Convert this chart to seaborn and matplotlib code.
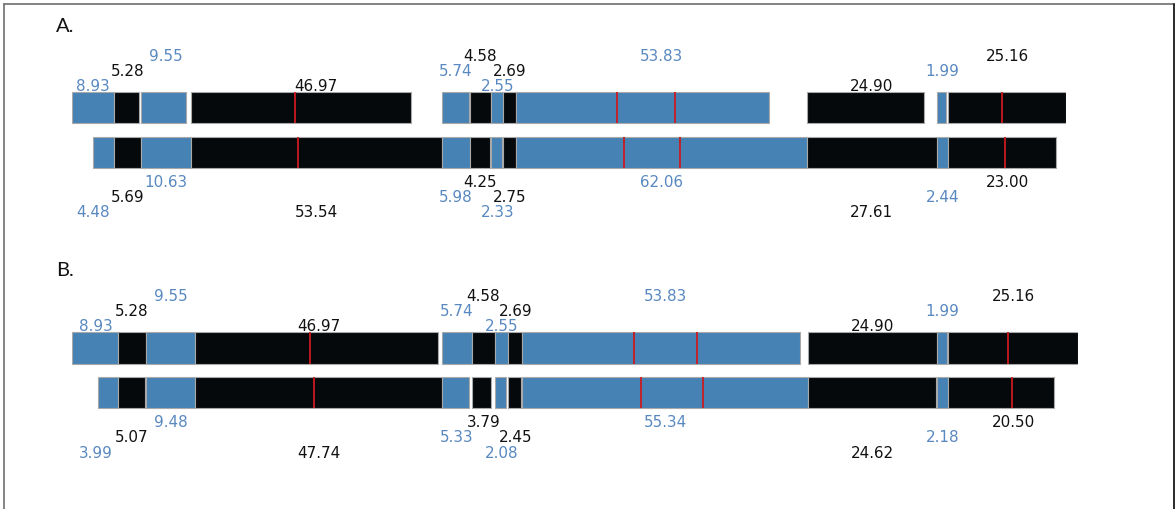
import matplotlib
matplotlib.use("Agg")
import matplotlib.pyplot as plt
from matplotlib.lines import Line2D
import numpy as np
import seaborn as sns

sns.set_theme(style="white")
plt.rcParams["font.family"] = ["DejaVu Sans"]

# Segment lengths, in genome order (reference row on top, query row below)
top_lengths = [8.93, 5.28, 9.55, 46.97, 5.74, 4.58, 2.55, 2.69, 53.83, 24.90, 1.99, 25.16]
bottom_lengths_a = [4.48, 5.69, 10.63, 53.54, 5.98, 4.25, 2.33, 2.75, 62.06, 27.61, 2.44, 23.00]
bottom_lengths_b = [3.99, 5.07, 9.48, 47.74, 5.33, 3.79, 2.08, 2.45, 55.34, 24.62, 2.18, 20.50]

# Marker positions (offset inside a segment) drawn as red ticks
mark_segments = [3, 8, 8, 11]
mark_offsets_top = [22.15, 21.6, 33.8, 11.6]
mark_offsets_bottom = [22.95, 23.0, 35.0, 12.25]

panel_titles = ["A.", "B."]

BLUE = "#4682b4"
BLACK = "#05090b"
BLUE_TXT = "#5888c0"
BLACK_TXT = "#111111"
RED = "#cc1a1f"
EDGE = "#a9a9a9"

W, H = 1175, 510
fig = plt.figure(figsize=(W / 100, H / 100), dpi=100)

# Panel geometry in figure pixels: (left, right, top-row center, bottom-row center)
panels = [
    (bottom_lengths_a, 72.3, 1066.0, 108.8, 153.2, (56, 32)),
    (bottom_lengths_b, 72.3, 1078.3, 349.0, 393.7, (56, 276)),
]

top_level_px = [2.0, 17.3, 32.6]      # baseline above the top row
bot_level_px = [18.2, 33.2, 48.5]     # baseline below the bottom row

for (bottom_lengths, x0, x1, yc0, yc1, title_xy), title in zip(panels, panel_titles):
    spacing = yc1 - yc0
    y_top = yc0 - spacing / 2
    y_bot = yc1 + spacing / 2
    ax = fig.add_axes([x0 / W, 1 - y_bot / H, (x1 - x0) / W, (y_bot - y_top) / H])

    slots = np.maximum(top_lengths, bottom_lengths)
    starts = np.concatenate([[0.0], np.cumsum(slots)[:-1]])
    total = slots.sum()
    bar_h = 31.2 / spacing

    for i, (t, b, s, w) in enumerate(zip(top_lengths, bottom_lengths, starts, slots)):
        color = BLUE if i % 2 == 0 else BLACK
        txt_color = BLUE_TXT if i % 2 == 0 else BLACK_TXT
        # first segment is right-aligned in its slot, others left-aligned
        t_left = s + (w - t if i == 0 else 0)
        b_left = s + (w - b if i == 0 else 0)
        ax.barh(0, t, left=t_left, height=bar_h, color=color,
                edgecolor=EDGE, linewidth=0.8, align="center")
        ax.barh(1, b, left=b_left, height=bar_h, color=color,
                edgecolor=EDGE, linewidth=0.8, align="center")

        cx = s + w / 2
        ax.annotate(f"{t:.2f}", xy=(cx, -bar_h / 2), xytext=(0, top_level_px[i % 3]),
                    textcoords="offset pixels", ha="center", va="baseline",
                    color=txt_color, fontsize=10.9, annotation_clip=False)
        ax.annotate(f"{b:.2f}", xy=(cx, 1 + bar_h / 2),
                    xytext=(0, -bot_level_px[2 - i % 3]),
                    textcoords="offset pixels", ha="center", va="baseline",
                    color=txt_color, fontsize=10.9, annotation_clip=False)

    for seg, ot, ob in zip(mark_segments, mark_offsets_top, mark_offsets_bottom):
        ax.vlines(starts[seg] + ot, -bar_h / 2, bar_h / 2, color=RED, lw=1.3)
        ax.vlines(starts[seg] + ob, 1 - bar_h / 2, 1 + bar_h / 2, color=RED, lw=1.3)

    ax.set_xlim(0, total)
    ax.set_ylim(1.5, -0.5)
    ax.set_xticks([])
    ax.set_yticks([])
    sns.despine(ax=ax, left=True, bottom=True)
    ax.patch.set_alpha(0)

    fig.text(title_xy[0] / W, 1 - title_xy[1] / H, title, fontsize=14.5,
             family=["Lato", "DejaVu Sans"], color="#111111", ha="left", va="baseline")

# Outer frame (left, top and right edges)
frame_color = "#6e6e6e"
fig.add_artist(Line2D([3.5 / W, 3.5 / W], [0, 1 - 5 / H], transform=fig.transFigure,
                      color=frame_color, lw=1.2))
fig.add_artist(Line2D([3.5 / W, 1173.5 / W], [1 - 5 / H, 1 - 5 / H], transform=fig.transFigure,
                      color=frame_color, lw=1.2))
fig.add_artist(Line2D([1173.5 / W, 1173.5 / W], [0, 1 - 5 / H], transform=fig.transFigure,
                      color="#2a2a2a", lw=1.4))

fig.savefig("out.png", dpi=100, facecolor="white")
